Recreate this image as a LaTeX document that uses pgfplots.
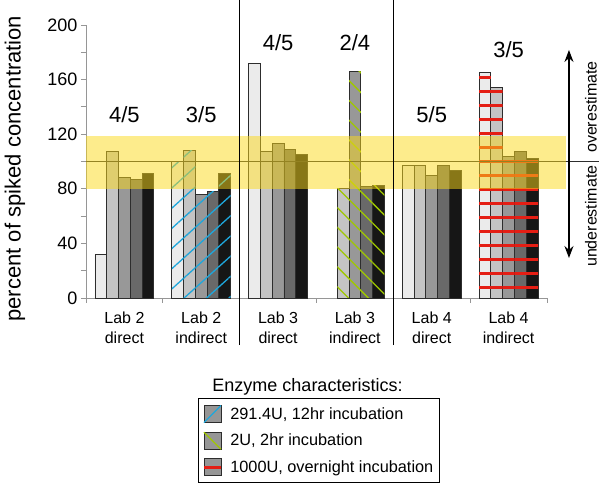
\documentclass[border=0pt]{standalone}
\usepackage{pgfplots}
\pgfplotsset{compat=1.18}
\usepackage{fontspec}
\setmainfont{Liberation Sans}
\usetikzlibrary{patterns.meta, arrows.meta}

\definecolor{c1}{RGB}{235,235,235}
\definecolor{c2}{RGB}{196,196,196}
\definecolor{c3}{RGB}{152,152,152}
\definecolor{c4}{RGB}{105,105,105}
\definecolor{c5}{RGB}{22,22,22}
\definecolor{edge}{RGB}{45,45,45}
\definecolor{blueline}{RGB}{30,167,220}
\definecolor{greenline}{RGB}{160,200,0}
\definecolor{redline}{RGB}{228,30,20}
\definecolor{band}{RGB}{251,217,25}
\definecolor{swatch}{RGB}{150,150,150}
\definecolor{axgray}{RGB}{150,150,150}

\newcommand{\bluepat}[2]{\addplot[forget plot, draw=none, pattern={Lines[angle=42,distance=15pt,line width=1.3pt]}, pattern color=blueline, bar shift=#1] coordinates {(1.5,#2)};}
\newcommand{\greenpat}[2]{\addplot[forget plot, draw=none, pattern={Lines[angle=-45,distance=14pt,line width=1.3pt]}, pattern color=greenline, bar shift=#1] coordinates {(3.5,#2)};}
\newcommand{\redpat}[2]{\addplot[forget plot, draw=none, pattern={Lines[angle=0,distance=14pt,line width=3pt]}, pattern color=redline, bar shift=#1] coordinates {(5.5,#2)};}

\begin{document}
\begin{tikzpicture}
\useasboundingbox (0,0) rectangle (600pt,484pt);
\begin{axis}[
  at={(86pt,186pt)}, anchor=south west,
  scale only axis, width=461pt, height=273pt,
  xmin=0, xmax=6, ymin=0, ymax=200,
  clip=false,
  axis lines=left,
  axis line style={-, draw=axgray, line width=0.8pt},
  tick style={draw=axgray, line width=0.8pt},
  tick align=outside, major tick length=5pt, minor tick length=5pt,
  ytick={0,40,...,200}, minor ytick={20,60,...,180},
  xtick={0,1,...,6}, xticklabels={},
  yticklabel style={font=\fontsize{18}{18}\selectfont},
  /pgf/number format/assume math mode=true,
  ylabel={percent of spiked concentration},
  ylabel style={font=\fontsize{22}{22}\selectfont, at={(axis description cs:-0.154,0.474)}, anchor=center},
  ybar, bar width=0.1532,
  legend style={at={(axis description cs:0.243,-0.366)}, anchor=north west,
    draw=black, line width=1pt, font=\fontsize{16.3}{16.3}\selectfont,
    row sep=8.5pt, inner xsep=4pt, inner ysep=6.5pt, cells={anchor=west},
    /tikz/every odd column/.append style={column sep=6pt}},
  legend cell align=left,
]
% main bars
\addplot[forget plot, fill=c1, draw=edge, line width=0.9pt, bar shift=-0.3064] coordinates {(0.5,32) (1.5,100) (2.5,172) (4.5,97) (5.5,165)};
\addplot[forget plot, fill=c2, draw=edge, line width=0.9pt, bar shift=-0.1532] coordinates {(0.5,107) (1.5,108) (2.5,107) (3.5,80) (4.5,97) (5.5,154)};
\addplot[forget plot, fill=c3, draw=edge, line width=0.9pt, bar shift=0] coordinates {(0.5,88) (1.5,76) (2.5,113) (3.5,166) (4.5,90) (5.5,104)};
\addplot[forget plot, fill=c4, draw=edge, line width=0.9pt, bar shift=0.1532] coordinates {(0.5,87) (1.5,78) (2.5,109) (3.5,82) (4.5,97) (5.5,107)};
\addplot[forget plot, fill=c5, draw=edge, line width=0.9pt, bar shift=0.3064] coordinates {(0.5,91) (1.5,91) (2.5,105) (3.5,82.5) (4.5,93.5) (5.5,102.5)};
% enzyme patterns
\bluepat{-0.3064}{100}
\bluepat{-0.1532}{108}
\bluepat{0}{76}
\bluepat{0.1532}{78}
\bluepat{0.3064}{91}
\greenpat{-0.1532}{80}
\greenpat{0}{166}
\greenpat{0.1532}{82}
\greenpat{0.3064}{82.5}
\redpat{-0.3064}{165}
\redpat{-0.1532}{154}
\redpat{0}{104}
\redpat{0.1532}{107}
\redpat{0.3064}{102.5}
% legend
\addlegendimage{legend image code/.code={\draw[fill=swatch, draw=edge, line width=0.8pt] (0pt,-8.5pt) rectangle (17pt,8.5pt); \draw[blueline, line width=1.2pt] (0pt,-8.5pt) -- (17pt,8.5pt);}}
\addlegendentry{291.4U, 12hr incubation}
\addlegendimage{legend image code/.code={\draw[fill=swatch, draw=edge, line width=0.8pt] (0pt,-8.5pt) rectangle (17pt,8.5pt); \draw[greenline, line width=1.2pt] (0pt,8.5pt) -- (17pt,-8.5pt);}}
\addlegendentry{2U, 2hr incubation}
\addlegendimage{legend image code/.code={\draw[fill=swatch, draw=edge, line width=0.8pt] (0pt,-8.5pt) rectangle (17pt,8.5pt); \draw[redline, line width=2.8pt] (0pt,0pt) -- (17pt,0pt);}}
\addlegendentry{1000U, overnight incubation}
% reference line and band
\draw[edge, line width=1pt] (axis cs:0,100) -- (axis cs:6.675,100);
\fill[band, opacity=0.5] (axis cs:0,80) rectangle (axis cs:6.25,119);
% separators
\draw[black, line width=1.2pt] (axis cs:2,-34.5) -- (axis cs:2,218.5);
\draw[black, line width=1.2pt] (axis cs:4,-34.5) -- (axis cs:4,218.5);
% arrow
\draw[black, line width=1.2pt, {Stealth[length=12pt,width=9pt]}-{Stealth[length=12pt,width=9pt]}] (axis cs:6.286,29.3) -- (axis cs:6.286,181.7);
\node[rotate=90, anchor=west, inner sep=0pt, font=\fontsize{16}{16}\selectfont] at (axis cs:6.571,106.2) {overestimate};
\node[rotate=90, anchor=west, inner sep=0pt, font=\fontsize{16}{16}\selectfont] at (axis cs:6.571,22.7) {underestimate};
% fractions
\node[font=\fontsize{22}{22}\selectfont] at (axis cs:0.5,134) {4/5};
\node[font=\fontsize{22}{22}\selectfont] at (axis cs:1.5,134) {3/5};
\node[font=\fontsize{22}{22}\selectfont] at (axis cs:2.5,187) {4/5};
\node[font=\fontsize{22}{22}\selectfont] at (axis cs:3.5,187) {2/4};
\node[font=\fontsize{22}{22}\selectfont] at (axis cs:4.5,134) {5/5};
\node[font=\fontsize{22}{22}\selectfont] at (axis cs:5.5,182) {3/5};
% category labels
\node[align=center, anchor=north, inner sep=0pt, font=\fontsize{16}{20}\selectfont] at (axis cs:0.5,-10) {Lab 2\\direct};
\node[align=center, anchor=north, inner sep=0pt, font=\fontsize{16}{20}\selectfont] at (axis cs:1.5,-10) {Lab 2\\indirect};
\node[align=center, anchor=north, inner sep=0pt, font=\fontsize{16}{20}\selectfont] at (axis cs:2.5,-10) {Lab 3\\direct};
\node[align=center, anchor=north, inner sep=0pt, font=\fontsize{16}{20}\selectfont] at (axis cs:3.5,-10) {Lab 3\\indirect};
\node[align=center, anchor=north, inner sep=0pt, font=\fontsize{16}{20}\selectfont] at (axis cs:4.5,-10) {Lab 4\\direct};
\node[align=center, anchor=north, inner sep=0pt, font=\fontsize{16}{20}\selectfont] at (axis cs:5.5,-10) {Lab 4\\indirect};
% legend title
\node[font=\fontsize{18}{18}\selectfont] at (axis cs:2.883,-65.2) {Enzyme characteristics:};
\end{axis}
\end{tikzpicture}
\end{document}
